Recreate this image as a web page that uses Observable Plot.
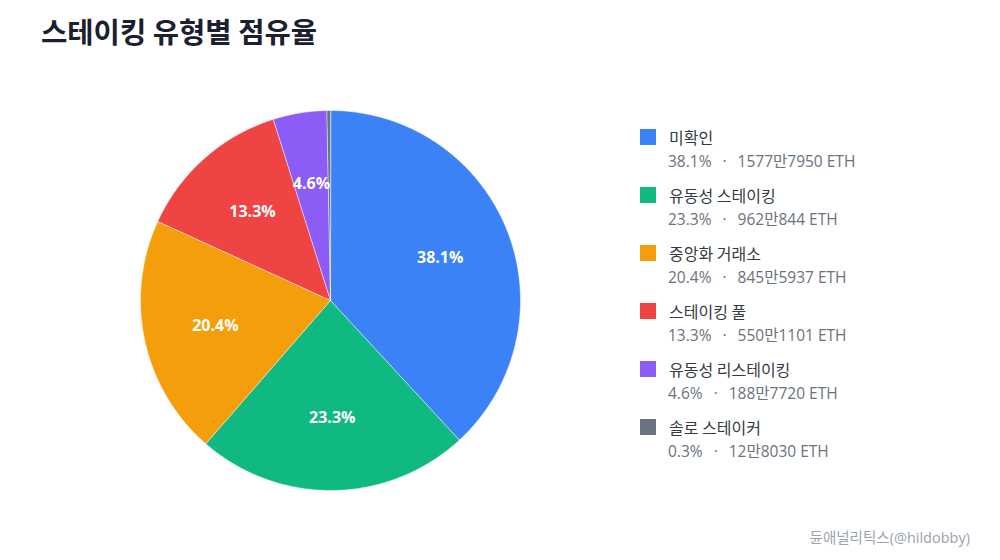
<!DOCTYPE html>
<html><head><meta charset="utf-8">
<script src="https://cdn.jsdelivr.net/npm/d3@7"></script>
<script src="https://cdn.jsdelivr.net/npm/@observablehq/plot@0.6"></script>
<style>
body{margin:0;background:#fff;font-family:"Open Sans","Noto Sans CJK KR",sans-serif;}
#wrap{position:relative;width:1000px;height:560px;overflow:hidden;}
#title{position:absolute;left:41px;top:10px;font-size:28.6px;font-weight:700;color:#1a2030;white-space:nowrap;font-family:"Noto Sans CJK KR",sans-serif;}
#chart{position:absolute;left:0;top:70px;}
#legend{position:absolute;left:640px;top:126px;}
.row{height:58px;}
.name{display:flex;align-items:center;font-size:16px;color:#333a44;height:22px;font-family:"Noto Sans CJK KR",sans-serif;}
.sw{width:16px;height:16px;margin-right:13px;}
.sub{margin-left:28px;font-size:15.5px;color:#6b7280;height:22px;line-height:22px;white-space:nowrap;position:relative;top:2px;}
.dot{margin:0 11px;}
#caption{position:absolute;right:30px;top:526px;font-size:14.5px;color:#9ca3af;}
</style></head>
<body><div id="wrap">
<div id="title">스테이킹 유형별 점유율</div>
<div id="chart"></div>
<div id="legend"></div>
<div id="caption">듄애널리틱스(@hildobby)</div>
</div>
<script>
const categories = ["미확인","유동성 스테이킹","중앙화 거래소","스테이킹 풀","유동성 리스테이킹","솔로 스테이커"];
const values = [15777950, 9620844, 8455937, 5501101, 1887720, 128030];
const colors = ["#3b82f6","#10b981","#f59e0b","#ef4444","#8b5cf6","#6b7280"];

const total = d3.sum(values);
const pie = d3.pie().sort(null).value(d => d.value);
const arcs = pie(categories.map((c,i)=>({category:c,value:values[i]})));

// polygon points for each slice, angle measured clockwise from top
const pts = [];
for (const a of arcs) {
  const n = Math.max(2, Math.ceil((a.endAngle - a.startAngle) / 0.01));
  pts.push({category:a.data.category, x:0, y:0});
  for (let k=0;k<=n;k++){
    const t = a.startAngle + (a.endAngle - a.startAngle)*k/n;
    pts.push({category:a.data.category, x:Math.sin(t), y:Math.cos(t)});
  }
}
const labels = arcs.filter(a => a.data.value/total >= 0.01).map(a => {
  const m = (a.startAngle + a.endAngle)/2;
  return {x:0.62*Math.sin(m), y:0.62*Math.cos(m), text:(a.data.value/total*100).toFixed(1)+"%"};
});

const plot = Plot.plot({
  width:1000, height:490,
  marginLeft:140, marginRight:480, marginTop:40, marginBottom:70,
  x:{domain:[-1,1], axis:null},
  y:{domain:[-1,1], axis:null},
  color:{domain:categories, range:colors},
  style:{fontFamily:'"Open Sans","Noto Sans CJK KR",sans-serif', background:"transparent"},
  marks:[
    Plot.line(pts, {x:"x", y:"y", z:"category", fill:"category", stroke:"white", strokeWidth:0.5, curve:"linear-closed"}),
    Plot.text(labels, {x:"x", y:"y", text:"text", fill:"white", fontWeight:"bold", fontSize:16})
  ]
});
document.getElementById("chart").appendChild(plot);

const fmt = v => Math.floor(v/10000) + "만" + (v%10000);
const leg = document.getElementById("legend");
categories.forEach((c,i)=>{
  const row = document.createElement("div"); row.className="row";
  row.innerHTML = `<div class="name"><span class="sw" style="background:${colors[i]}"></span>${c}</div>`+
    `<div class="sub">${(values[i]/total*100).toFixed(1)}%<span class="dot">·</span>${fmt(values[i])} ETH</div>`;
  leg.appendChild(row);
});
</script>
</body></html>
